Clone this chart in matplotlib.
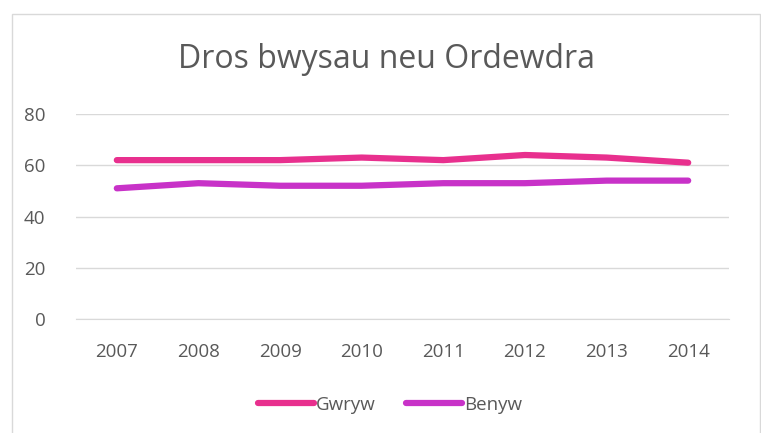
import matplotlib.pyplot as plt
from matplotlib.patches import Rectangle

years = ['2007', '2008', '2009', '2010', '2011', '2012', '2013', '2014']
gwryw = [62, 62, 62, 63, 62, 64, 63, 61]
benyw = [51, 53, 52, 52, 53, 53, 54, 54]

plt.rcParams['font.family'] = ['Open Sans', 'DejaVu Sans']
text_color = '#595959'

fig = plt.figure(figsize=(7.61, 4.33), dpi=100)
fig.patches.append(Rectangle((12 / 761, -0.1), 748 / 761, 1.1 - 14 / 433,
                             transform=fig.transFigure, fill=False,
                             edgecolor='#d9d9d9', linewidth=1))

ax = fig.add_axes([76 / 761, 1 - 319 / 433, 653 / 761, 205 / 433])
x = range(len(years))
ax.plot(x, gwryw, color='#e8308e', linewidth=4.5, solid_capstyle='round',
        solid_joinstyle='round', label='Gwryw')
ax.plot(x, benyw, color='#c832c8', linewidth=4.5, solid_capstyle='round',
        solid_joinstyle='round', label='Benyw')

ax.set_xlim(-0.5, len(years) - 0.5)
ax.set_ylim(0, 80)
ax.set_yticks([0, 20, 40, 60, 80])
ax.set_xticks(list(x))
ax.set_xticklabels(years)
ax.grid(axis='y', color='#d9d9d9', linewidth=1)
ax.set_axisbelow(True)
for s in ['top', 'right', 'left']:
    ax.spines[s].set_visible(False)
ax.spines['bottom'].set_color('#d9d9d9')
ax.tick_params(length=0, labelsize=13.5, labelcolor=text_color)
ax.tick_params(axis='x', pad=17)
ax.tick_params(axis='y', pad=22)

fig.text(386 / 761, 1 - 60 / 433, 'Dros bwysau neu Ordewdra', ha='center',
         va='center', fontsize=23, color=text_color)

fig.legend(loc='center', bbox_to_anchor=(390 / 761, 1 - 405 / 433), ncol=2,
           frameon=False, fontsize=13.5, labelcolor=text_color, handlelength=3.0,
           handletextpad=0.1, columnspacing=1.6)

fig.savefig('out.png', dpi=100)
